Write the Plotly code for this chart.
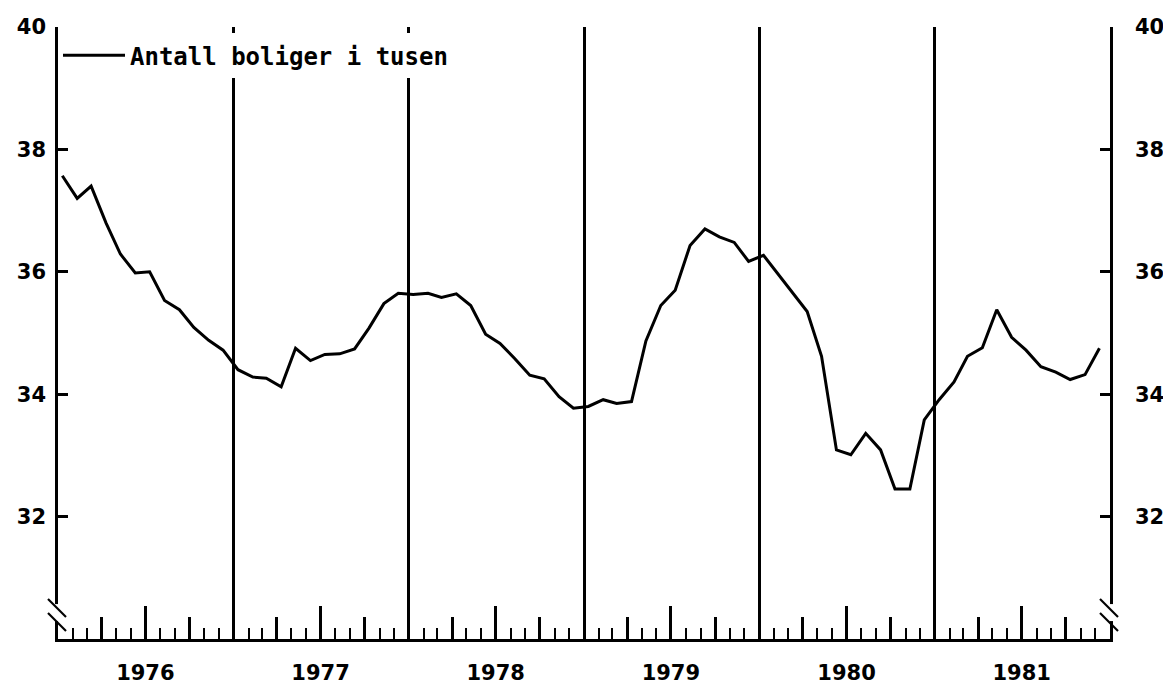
import plotly.graph_objects as go

# monthly values, Jan 1976 - Dec 1981 (thousands of dwellings)
years = [1976, 1977, 1978, 1979, 1980, 1981]
boliger_1976 = [37.57, 37.20, 37.40, 36.80, 36.29, 35.98, 36.00, 35.53, 35.38, 35.09, 34.88, 34.72]
boliger_1977 = [34.40, 34.28, 34.26, 34.12, 34.75, 34.55, 34.65, 34.66, 34.74, 35.08, 35.48, 35.65]
boliger_1978 = [35.63, 35.65, 35.58, 35.64, 35.45, 34.98, 34.83, 34.58, 34.31, 34.25, 33.96, 33.77]
boliger_1979 = [33.80, 33.91, 33.85, 33.88, 34.87, 35.45, 35.70, 36.43, 36.70, 36.57, 36.48, 36.17]
boliger_1980 = [36.27, 35.95, 35.66, 35.35, 34.62, 33.09, 33.01, 33.36, 33.09, 32.45, 32.45, 33.58]
boliger_1981 = [33.91, 34.20, 34.62, 34.76, 35.38, 34.93, 34.72, 34.45, 34.36, 34.24, 34.32, 34.75]
y_ticks = [32, 34, 36, 38, 40]
series_name = "Antall boliger i tusen"

values = boliger_1976 + boliger_1977 + boliger_1978 + boliger_1979 + boliger_1980 + boliger_1981
dates = [f"{y}-{m:02d}-10" for y in years for m in range(1, 13)]

x_range = ["1976-01-01", "1982-01-01"]
mid_year = [f"{y}-07-01" for y in years]
quarters = [f"{y}-{m:02d}-01" for y in years for m in (4, 10)]
year_starts = [f"{y}-01-01" for y in years[1:]]

INK = "black"
AXW = 2.5

fig = go.Figure()
fig.add_trace(go.Scatter(x=dates, y=values, mode="lines", name=series_name,
                         line=dict(color=INK, width=3)))

# invisible copies so the overlaying axes get drawn
for xa, ya in (("x2", "y"), ("x3", "y"), ("x", "y2")):
    fig.add_trace(go.Scatter(x=dates, y=values, xaxis=xa, yaxis=ya, mode="lines",
                             line=dict(width=0), opacity=0, hoverinfo="skip",
                             showlegend=False))

# the page body adds 8px around the figure, so the figure is 8px smaller
fig.update_layout(
    width=1163, height=676,
    margin=dict(l=50, r=61, t=19, b=45, autoexpand=False),
    paper_bgcolor="white", plot_bgcolor="white",
    font=dict(family="DejaVu Sans", size=21, color=INK, weight="bold"),
    showlegend=True,
    legend=dict(x=0, y=0.99, xanchor="left", yanchor="top", bgcolor="white",
                borderwidth=0, itemwidth=62,
                font=dict(family="DejaVu Sans Mono", size=24, weight="bold")),
    xaxis=dict(type="date", range=x_range, tickmode="array", tickvals=mid_year,
               ticktext=[str(y) for y in years], ticks="inside", ticklen=33,
               tickwidth=AXW, tickcolor=INK, showline=True, linecolor=INK,
               linewidth=AXW, showgrid=False, zeroline=False, ticklabelstandoff=13,
               minor=dict(ticks="inside", ticklen=11, tickwidth=2, tickcolor=INK,
                          dtick="M1", tick0="1976-01-01", showgrid=False)),
    xaxis2=dict(type="date", range=x_range, overlaying="x", anchor="y", side="bottom",
                tickmode="array", tickvals=quarters, ticks="inside", ticklen=22,
                tickwidth=AXW, tickcolor=INK, showticklabels=False, showline=False,
                showgrid=False, zeroline=False),
    xaxis3=dict(type="date", range=x_range, overlaying="x", anchor="y", side="bottom",
                tickmode="array", tickvals=year_starts, ticks="", showticklabels=False,
                showline=False, showgrid=True, gridcolor=INK, gridwidth=AXW,
                zeroline=False),
    yaxis=dict(range=[30, 40], tickmode="array", tickvals=y_ticks, ticks="inside",
               ticklen=10, tickwidth=AXW, tickcolor=INK, showline=True, linecolor=INK,
               linewidth=AXW, showgrid=False, zeroline=False, ticklabelstandoff=5),
    yaxis2=dict(range=[30, 40], overlaying="y", anchor="x", side="right",
                tickmode="array", tickvals=y_ticks, ticks="inside", ticklen=10,
                tickwidth=AXW, tickcolor=INK, showline=True, linecolor=INK,
                linewidth=AXW, showgrid=False, zeroline=False, ticklabelstandoff=18),
)

# axis break marks "//" near the bottom of both value axes
for side in (0, 1):
    fig.add_shape(type="rect", xref="paper", yref="y", xsizemode="pixel", ysizemode="pixel",
                  xanchor=side, yanchor=30.44, x0=-4, x1=4, y0=-9, y1=8,
                  fillcolor="white", line=dict(width=0), layer="above")
    for dy in (0, -14):
        fig.add_shape(type="line", xref="paper", yref="y", xsizemode="pixel",
                      ysizemode="pixel", xanchor=side, yanchor=30.44,
                      x0=-10, y0=13 + dy, x1=8, y1=-5 + dy,
                      line=dict(color=INK, width=2.2), layer="above")

fig.write_html("out.html")
